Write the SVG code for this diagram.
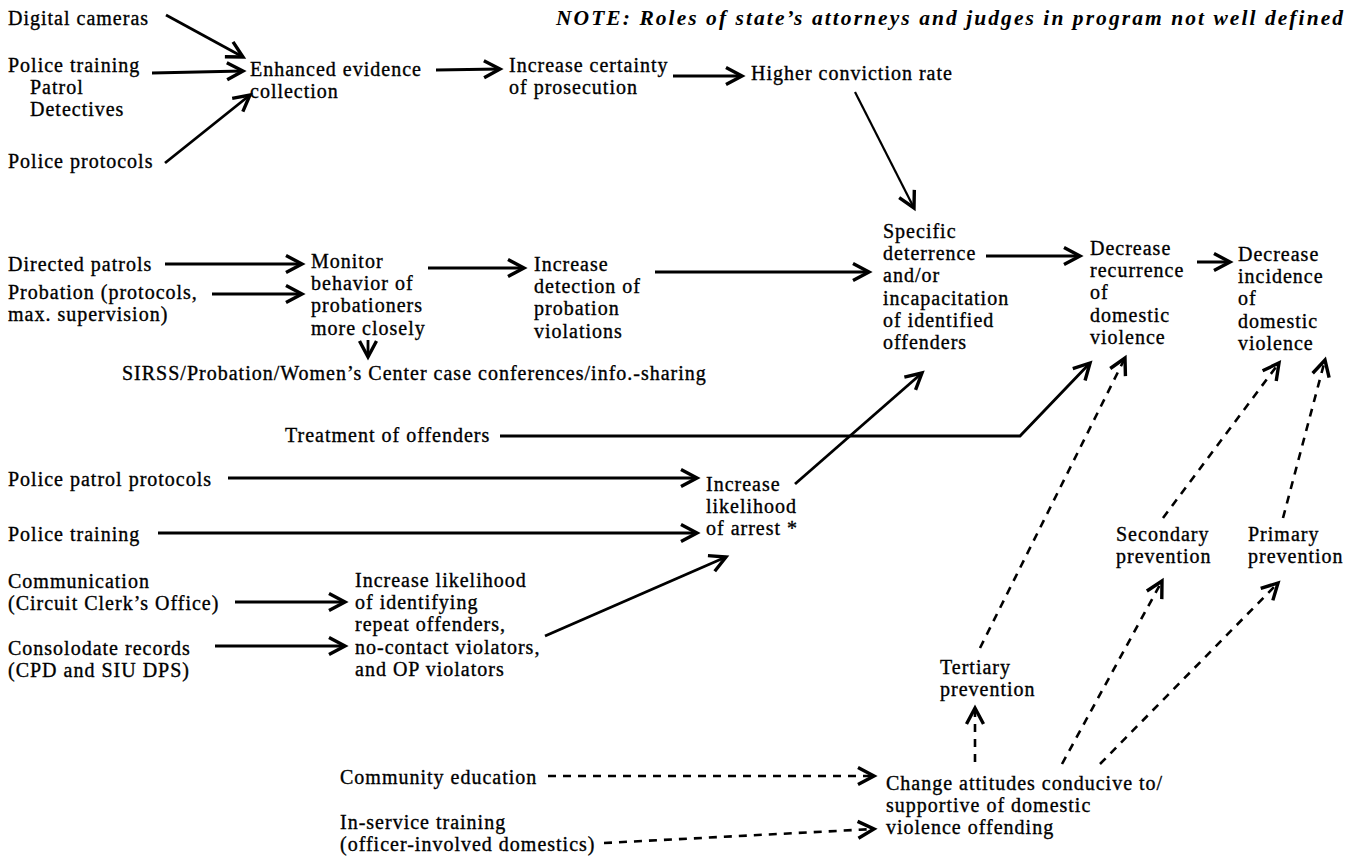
<svg xmlns="http://www.w3.org/2000/svg" width="1359" height="863" viewBox="0 0 1359 863">
<style>
.t{font-family:"Liberation Serif","Times New Roman",serif;font-size:20px;letter-spacing:1px;fill:#000;stroke:#000;stroke-width:0.35}
.n{font-style:italic;font-weight:bold;font-size:21.5px;letter-spacing:0;stroke-width:0}
.s{fill:none;stroke:#000;stroke-width:2.8}
.d{fill:none;stroke:#000;stroke-width:2.6;stroke-dasharray:8 7}
</style>
<defs>
<marker id="ah" markerUnits="userSpaceOnUse" markerWidth="28" markerHeight="28" viewBox="-20 -14 28 28" refX="0" refY="0" orient="auto" overflow="visible">
<path d="M-16,-8.5 L0,0 L-16,8.5" fill="none" stroke="#000" stroke-width="3.4"/>
</marker>
</defs>
<rect width="1359" height="863" fill="#fff"/>
<g id="connectors">
<line class="s" x1="166" y1="15" x2="243" y2="57" marker-end="url(#ah)"/>
<line class="s" x1="152" y1="73" x2="243" y2="71" marker-end="url(#ah)"/>
<line class="s" x1="165" y1="163" x2="250" y2="95" marker-end="url(#ah)"/>
<line class="s" x1="436" y1="70" x2="500" y2="69" marker-end="url(#ah)"/>
<line class="s" x1="673" y1="76" x2="742" y2="76" marker-end="url(#ah)"/>
<line class="s" x1="855" y1="92" x2="914" y2="208" marker-end="url(#ah)" style="stroke-width:2.2"/>
<line class="s" x1="165" y1="264" x2="302" y2="264" marker-end="url(#ah)"/>
<line class="s" x1="212" y1="294" x2="302" y2="294" marker-end="url(#ah)"/>
<line class="s" x1="428" y1="268" x2="524" y2="268" marker-end="url(#ah)"/>
<line class="s" x1="655" y1="272" x2="869" y2="272" marker-end="url(#ah)"/>
<line class="s" x1="368" y1="340" x2="368" y2="357" marker-end="url(#ah)"/>
<line class="s" x1="986" y1="256" x2="1080" y2="256" marker-end="url(#ah)"/>
<line class="s" x1="1197" y1="262" x2="1230" y2="262" marker-end="url(#ah)"/>
<polyline class="s" points="500,436 1020,436 1090,363" marker-end="url(#ah)"/>
<line class="s" x1="228" y1="478" x2="697" y2="478" marker-end="url(#ah)"/>
<line class="s" x1="158" y1="533" x2="697" y2="533" marker-end="url(#ah)"/>
<line class="s" x1="795" y1="484" x2="922" y2="373" marker-end="url(#ah)"/>
<line class="s" x1="235" y1="602" x2="345" y2="602" marker-end="url(#ah)"/>
<line class="s" x1="215" y1="646" x2="345" y2="646" marker-end="url(#ah)"/>
<line class="s" x1="545" y1="636" x2="726" y2="557" marker-end="url(#ah)"/>
<line class="d" x1="548" y1="776" x2="874" y2="776" marker-end="url(#ah)"/>
<line class="d" x1="604" y1="843" x2="874" y2="829" marker-end="url(#ah)"/>
<line class="d" x1="975" y1="762" x2="975" y2="708" marker-end="url(#ah)"/>
<line class="d" x1="980" y1="648" x2="1125" y2="358" marker-end="url(#ah)"/>
<line class="d" x1="1062" y1="764" x2="1162" y2="581" marker-end="url(#ah)"/>
<line class="d" x1="1163" y1="518" x2="1279" y2="363" marker-end="url(#ah)"/>
<line class="d" x1="1100" y1="764" x2="1278" y2="583" marker-end="url(#ah)"/>
<line class="d" x1="1283" y1="518" x2="1325" y2="360" marker-end="url(#ah)"/>
</g>
<g id="note"><text class="t n" x="556" y="25" textLength="787" lengthAdjust="spacing">NOTE: Roles of state’s attorneys and judges in program not well defined</text></g>
<g id="digital-cameras"><text class="t" x="8" y="25">Digital cameras</text></g>
<g id="police-training-1"><text class="t"><tspan x="8" y="72">Police training</tspan><tspan x="30" dy="22.2">Patrol</tspan><tspan x="30" dy="22.2">Detectives</tspan></text></g>
<g id="police-protocols"><text class="t" x="8" y="168">Police protocols</text></g>
<g id="enhanced-evidence"><text class="t"><tspan x="250" y="76">Enhanced evidence</tspan><tspan x="250" dy="22.2">collection</tspan></text></g>
<g id="increase-certainty"><text class="t"><tspan x="509" y="72">Increase certainty</tspan><tspan x="509" dy="22.2">of prosecution</tspan></text></g>
<g id="higher-conviction"><text class="t" x="751" y="80">Higher conviction rate</text></g>
<g id="directed-patrols"><text class="t" x="8" y="271">Directed patrols</text></g>
<g id="probation"><text class="t"><tspan x="8" y="299">Probation (protocols,</tspan><tspan x="8" dy="22.2">max. supervision)</tspan></text></g>
<g id="monitor"><text class="t"><tspan x="311" y="268">Monitor</tspan><tspan x="311" dy="22.2">behavior of</tspan><tspan x="311" dy="22.2">probationers</tspan><tspan x="311" dy="22.2">more closely</tspan></text></g>
<g id="increase-detection"><text class="t"><tspan x="534" y="271">Increase</tspan><tspan x="534" dy="22.2">detection of</tspan><tspan x="534" dy="22.2">probation</tspan><tspan x="534" dy="22.2">violations</tspan></text></g>
<g id="specific-deterrence"><text class="t"><tspan x="883" y="238">Specific</tspan><tspan x="883" dy="22.2">deterrence</tspan><tspan x="883" dy="22.2">and/or</tspan><tspan x="883" dy="22.2">incapacitation</tspan><tspan x="883" dy="22.2">of identified</tspan><tspan x="883" dy="22.2">offenders</tspan></text></g>
<g id="decrease-recurrence"><text class="t"><tspan x="1090" y="255">Decrease</tspan><tspan x="1090" dy="22.2">recurrence</tspan><tspan x="1090" dy="22.2">of</tspan><tspan x="1090" dy="22.2">domestic</tspan><tspan x="1090" dy="22.2">violence</tspan></text></g>
<g id="decrease-incidence"><text class="t"><tspan x="1238" y="261">Decrease</tspan><tspan x="1238" dy="22.2">incidence</tspan><tspan x="1238" dy="22.2">of</tspan><tspan x="1238" dy="22.2">domestic</tspan><tspan x="1238" dy="22.2">violence</tspan></text></g>
<g id="sirss"><text class="t" x="122" y="380">SIRSS/Probation/Women’s Center case conferences/info.-sharing</text></g>
<g id="treatment"><text class="t" x="285" y="442">Treatment of offenders</text></g>
<g id="police-patrol-protocols"><text class="t" x="8" y="486">Police patrol protocols</text></g>
<g id="police-training-2"><text class="t" x="8" y="541">Police training</text></g>
<g id="increase-arrest"><text class="t"><tspan x="706" y="491">Increase</tspan><tspan x="706" dy="22.2">likelihood</tspan><tspan x="706" dy="22.2">of arrest *</tspan></text></g>
<g id="communication"><text class="t"><tspan x="8" y="588">Communication</tspan><tspan x="8" dy="22.2">(Circuit Clerk’s Office)</tspan></text></g>
<g id="increase-identifying"><text class="t"><tspan x="355" y="587">Increase likelihood</tspan><tspan x="355" dy="22.2">of identifying</tspan><tspan x="355" dy="22.2">repeat offenders,</tspan><tspan x="355" dy="22.2">no-contact violators,</tspan><tspan x="355" dy="22.2">and OP violators</tspan></text></g>
<g id="consolidate-records"><text class="t"><tspan x="8" y="655">Consolodate records</tspan><tspan x="8" dy="22.2">(CPD and SIU DPS)</tspan></text></g>
<g id="tertiary"><text class="t"><tspan x="940" y="674">Tertiary</tspan><tspan x="940" dy="22.2">prevention</tspan></text></g>
<g id="secondary"><text class="t"><tspan x="1116" y="541">Secondary</tspan><tspan x="1116" dy="22.2">prevention</tspan></text></g>
<g id="primary"><text class="t"><tspan x="1248" y="541">Primary</tspan><tspan x="1248" dy="22.2">prevention</tspan></text></g>
<g id="community-education"><text class="t" x="340" y="784">Community education</text></g>
<g id="change-attitudes"><text class="t"><tspan x="886" y="790">Change attitudes conducive to/</tspan><tspan x="886" dy="22.2">supportive of domestic</tspan><tspan x="886" dy="22.2">violence offending</tspan></text></g>
<g id="in-service"><text class="t"><tspan x="340" y="829">In-service training</tspan><tspan x="340" dy="22.2">(officer-involved domestics)</tspan></text></g>
</svg>
